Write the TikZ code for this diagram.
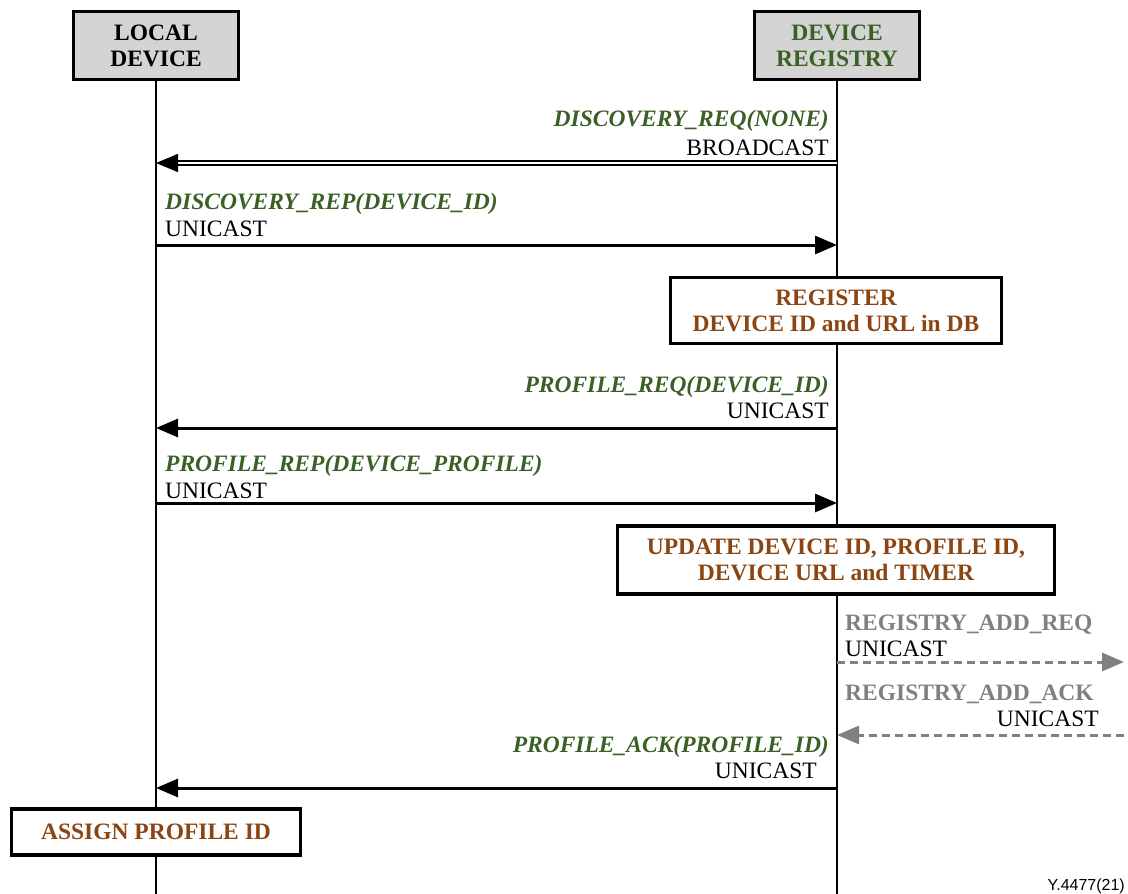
\documentclass[tikz,border=0pt]{standalone}
\usepackage{fontspec}
\setmainfont{Liberation Serif}
\newfontfamily\figsans{Liberation Sans}
\usetikzlibrary{arrows.meta}
\definecolor{msggreen}{RGB}{58,96,38}
\definecolor{actbrown}{RGB}{139,69,19}
\definecolor{extgray}{RGB}{128,128,128}
\definecolor{headfill}{RGB}{212,212,212}

\begin{document}
\begin{tikzpicture}[x=1pt,y=-1pt,
  lbl/.style={font=\fontsize{23.5}{26}\selectfont, inner sep=0pt},
  msgname/.style={lbl, text=msggreen, font=\fontsize{23.5}{26}\selectfont\bfseries\itshape},
  extname/.style={lbl, text=extgray, font=\fontsize{23.5}{26}\selectfont\bfseries},
  headbox/.style={draw, line width=3.5pt, fill=headfill, align=center, inner sep=0pt,
    font=\fontsize{23.5}{26}\selectfont\bfseries, minimum width=165pt, minimum height=68pt},
  actbox/.style={draw, line width=3.5pt, fill=white, text=actbrown, align=center, inner sep=0pt,
    font=\fontsize{23.5}{26}\selectfont\bfseries},
  life/.style={line width=1.5pt},
  msg/.style={line width=3pt, -{Triangle[length=22pt,width=18pt]}},
  bcast/.style={line width=1.5pt, double distance=2.5pt, -{Triangle[length=22pt,width=18pt]}},
  extmsg/.style={line width=3pt, extgray, dash pattern=on 8pt off 5pt, -{Triangle[length=22pt,width=18pt]}},
]
\useasboundingbox (0,0) rectangle (1128,894);

% lifeline heads
\node[headbox] (local) at (156,45.5) {LOCAL\\DEVICE};
\node[headbox, text=msggreen] (registry) at (837,45.5) {DEVICE\\REGISTRY};
\coordinate (localend) at (156,894);
\coordinate (registryend) at (837,894);

% lifelines
\draw[life] (local.south) -- (localend);
\draw[life] (registry.south) -- (registryend);

% message end points on the lifelines
\foreach \n/\y in {a/163,b/245,c/428,d/503,g/788}{
  \coordinate (l\n) at (156,\y);
  \coordinate (r\n) at (837,\y);
}
\coordinate (re) at (837,662);
\coordinate (xe) at (1124,662);
\coordinate (rf) at (837,735);
\coordinate (xf) at (1124,735);

% discovery
\node[msgname, anchor=base east] (t1) at (829,126) {DISCOVERY\_REQ(NONE)};
\node[lbl, anchor=base east] (t1b) at (829,155) {BROADCAST};
\draw[bcast] (ra) -- (la);

\node[msgname, anchor=base west] (t2) at (165,209) {DISCOVERY\_REP(DEVICE\_ID)};
\node[lbl, anchor=base west] (t2b) at (165,236) {UNICAST};
\draw[msg] (lb) -- (rb);

\node[actbox, minimum width=331pt, minimum height=66pt] (reg) at (836,310.5) {REGISTER\\DEVICE ID and URL in DB};

% profile
\node[msgname, anchor=base east] (t3) at (829,392) {PROFILE\_REQ(DEVICE\_ID)};
\node[lbl, anchor=base east] (t3b) at (829,418) {UNICAST};
\draw[msg] (rc) -- (lc);

\node[msgname, anchor=base west] (t4) at (165,471) {PROFILE\_REP(DEVICE\_PROFILE)};
\node[lbl, anchor=base west] (t4b) at (165,498) {UNICAST};
\draw[msg] (ld) -- (rd);

\node[actbox, minimum width=437pt, minimum height=68pt] (upd) at (836,560) {UPDATE DEVICE ID, PROFILE ID,\\DEVICE URL and TIMER};

% registry exchange
\node[extname, anchor=base west] (t5) at (845,630) {REGISTRY\_ADD\_REQ};
\node[lbl, anchor=base west] (t5b) at (845,656) {UNICAST};
\draw[extmsg] (re) -- (xe);

\node[extname, anchor=base west] (t6) at (845,700) {REGISTRY\_ADD\_ACK};
\node[lbl, anchor=base east] (t6b) at (1099,726) {UNICAST};
\draw[extmsg] (xf) -- (rf);

% acknowledgement
\node[msgname, anchor=base east] (t7) at (829,752) {PROFILE\_ACK(PROFILE\_ID)};
\node[lbl, anchor=base east] (t7b) at (817,778) {UNICAST};
\draw[msg] (rg) -- (lg);

\node[actbox, minimum width=289pt, minimum height=46pt] (assign) at (156,832) {ASSIGN PROFILE ID};

\node[font=\figsans\fontsize{16}{18}\selectfont, inner sep=0pt, anchor=base east] (fig) at (1125,890) {Y.4477(21)};
\end{tikzpicture}
\end{document}
